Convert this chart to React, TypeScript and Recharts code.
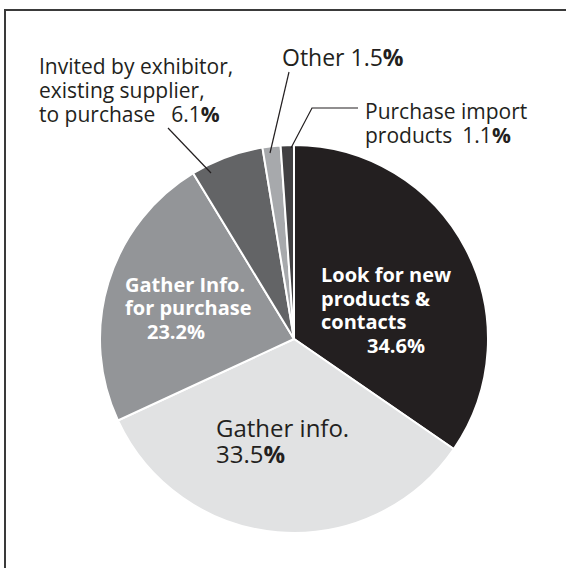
import React from "react";
import { PieChart, Pie, Cell } from "recharts";

const categories = [
  "Look for new products & contacts",
  "Gather info.",
  "Gather Info. for purchase",
  "Invited by exhibitor, existing supplier, to purchase",
  "Other",
  "Purchase import products",
];
const shares = [34.6, 33.5, 23.2, 6.1, 1.5, 1.1];
const sliceColors = ["#231f20", "#e1e2e3", "#939598", "#636466", "#a7a9ac", "#414042"];

const data = categories.map((name, i) => ({ name, value: shares[i] }));

const FONT = "'Open Sans', 'DejaVu Sans', sans-serif";
const DARK = "#231f20";

const pct = (v: number) => v.toFixed(1);

const renderLabel = (props: any) => {
  const { index, cx, cy } = props;
  const v = shares[index];
  const X = (dx: number) => cx + dx;
  const Y = (dy: number) => cy + dy;
  switch (index) {
    case 0:
      return (
        <g key="l0">
          <text x={X(27)} y={Y(-57)} fontFamily={FONT} fontWeight="bold" fontSize={20} fill="#ffffff">
            <tspan x={X(27)} y={Y(-57)}>Look for new</tspan>
            <tspan x={X(27)} y={Y(-33)}>products &amp;</tspan>
            <tspan x={X(27)} y={Y(-10)}>contacts</tspan>
            <tspan x={X(73)} y={Y(14)}>{pct(v)}%</tspan>
          </text>
        </g>
      );
    case 1:
      return (
        <g key="l1">
          <text x={X(-78)} y={Y(98)} fontFamily={FONT} fontSize={24} fill={DARK}>
            <tspan x={X(-78)} y={Y(98)}>Gather info.</tspan>
            <tspan x={X(-78)} y={Y(124)}>{pct(v)}</tspan>
            <tspan fontWeight="bold">%</tspan>
          </text>
        </g>
      );
    case 2:
      return (
        <g key="l2">
          <text x={X(-169)} y={Y(-47)} fontFamily={FONT} fontWeight="bold" fontSize={20} fill="#ffffff">
            <tspan x={X(-169)} y={Y(-47)}>Gather Info.</tspan>
            <tspan x={X(-169)} y={Y(-24)}>for purchase</tspan>
            <tspan x={X(-147)} y={Y(0)}>{pct(v)}%</tspan>
          </text>
        </g>
      );
    case 3:
      return (
        <g key="l3">
          <text x={X(-255)} y={Y(-265)} fontFamily={FONT} fontSize={21} fill={DARK}>
            <tspan x={X(-255)} y={Y(-265)}>Invited by exhibitor,</tspan>
            <tspan x={X(-255)} y={Y(-241)}>existing supplier,</tspan>
            <tspan x={X(-255)} y={Y(-217)}>to purchase</tspan>
            <tspan dx={16}>{pct(v)}</tspan>
            <tspan fontWeight="bold">%</tspan>
          </text>
          <line x1={X(-126)} y1={Y(-211)} x2={X(-83)} y2={Y(-166)} stroke={DARK} strokeWidth={1.2} />
        </g>
      );
    case 4:
      return (
        <g key="l4">
          <text x={X(-12)} y={Y(-273)} fontFamily={FONT} fontSize={23} fill={DARK}>
            Other {pct(v)}
            <tspan fontWeight="bold">%</tspan>
          </text>
          <line x1={X(-5)} y1={Y(-267)} x2={X(-24)} y2={Y(-186)} stroke={DARK} strokeWidth={1.2} />
        </g>
      );
    case 5:
      return (
        <g key="l5">
          <text x={X(71)} y={Y(-220)} fontFamily={FONT} fontSize={21} fill={DARK}>
            <tspan x={X(71)} y={Y(-220)}>Purchase import</tspan>
            <tspan x={X(71)} y={Y(-196)}>products</tspan>
            <tspan dx={10}>{pct(v)}</tspan>
            <tspan fontWeight="bold">%</tspan>
          </text>
          <polyline
            points={`${X(64)},${Y(-231)} ${X(18)},${Y(-231)} ${X(-3)},${Y(-191)}`}
            fill="none"
            stroke={DARK}
            strokeWidth={1.2}
          />
        </g>
      );
    default:
      return null;
  }
};

export default function App() {
  return (
    <div style={{ position: "absolute", left: 0, top: 0, width: 566, height: 568, background: "#fff" }}>
      <div
        style={{
          position: "absolute",
          left: 4,
          top: 9,
          width: 600,
          height: 600,
          borderLeft: "2px solid #3a3a3a",
          borderTop: "2px solid #3a3a3a",
        }}
      />
      <div style={{ position: "absolute", left: 0, top: 0 }}>
        <PieChart width={566} height={568}>
          <Pie
            data={data}
            dataKey="value"
            nameKey="name"
            cx={289}
            cy={334}
            outerRadius={194}
            startAngle={90}
            endAngle={-270}
            stroke="#ffffff"
            strokeWidth={2}
            label={renderLabel}
            labelLine={false}
            isAnimationActive={false}
          >
            {data.map((d, i) => (
              <Cell key={d.name} fill={sliceColors[i]} />
            ))}
          </Pie>
        </PieChart>
      </div>
    </div>
  );
}
